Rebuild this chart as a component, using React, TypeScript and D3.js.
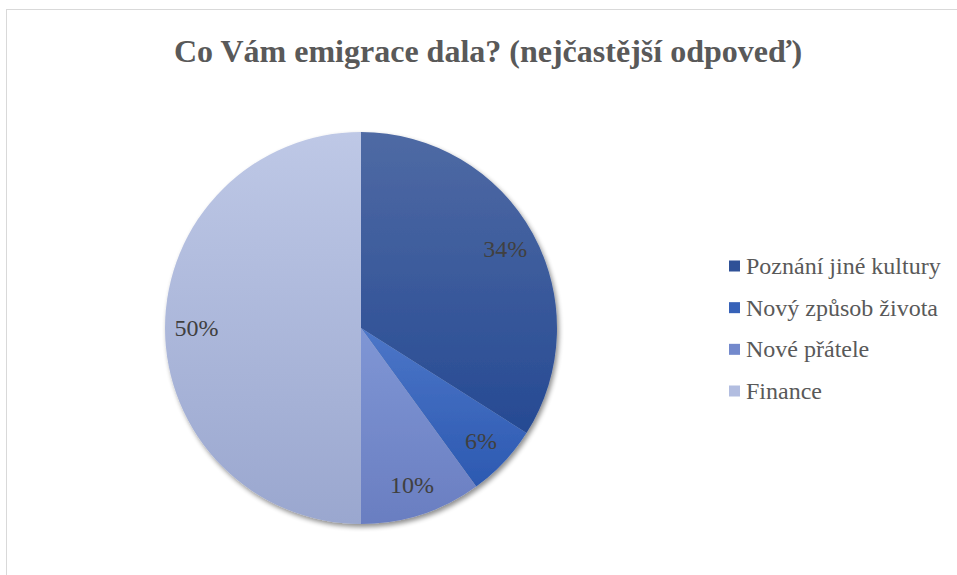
import React from "react";
import * as d3 from "d3";

const title = "Co Vám emigrace dala? (nejčastější odpoveď)";
const categories = ["Poznání jiné kultury", "Nový způsob života", "Nové přátele", "Finance"];
const values = [34, 6, 10, 50];
const labels = ["34%", "6%", "10%", "50%"];
const topColors = ["#4f6aa4", "#4c76c8", "#7f96d5", "#bec8e6"];
const bottomColors = ["#264a93", "#2c59b1", "#6a7ec1", "#9aa7cf"];
const swatchColors = ["#2f5197", "#3762b8", "#7389cc", "#b2bde0"];

export default function App() {
  const W = 957, H = 575;
  const cx = 361, cy = 328, R = 196;
  const pie = d3.pie<number>().sort(null).value((d) => d)(values);
  const arc = d3.arc<d3.PieArcDatum<number>>().innerRadius(0).outerRadius(R);
  const labelArc = d3.arc<d3.PieArcDatum<number>>().innerRadius(R * 0.84).outerRadius(R * 0.84);
  const legendY = d3.scalePoint<string>().domain(categories).range([266, 391]);

  return (
    <svg width={W} height={H} style={{ position: "absolute", left: 0, top: 0, background: "#fff" }}
      fontFamily="'Liberation Serif', 'Times New Roman', serif">
      <defs>
        {categories.map((c, i) => (
          <linearGradient key={c} id={`g${i}`} x1="0" y1="0" x2="0" y2="1">
            <stop offset="0" stopColor={topColors[i]} />
            <stop offset="1" stopColor={bottomColors[i]} />
          </linearGradient>
        ))}
        <filter id="sh" x="-20%" y="-20%" width="140%" height="140%">
          <feGaussianBlur in="SourceAlpha" stdDeviation="2.5" />
          <feOffset dx="2" dy="3" result="b" />
          <feComponentTransfer><feFuncA type="linear" slope="0.45" /></feComponentTransfer>
          <feMerge><feMergeNode /><feMergeNode in="SourceGraphic" /></feMerge>
        </filter>
      </defs>
      <rect x={6.5} y={9.5} width={W + 10} height={H + 10} fill="#fff" stroke="#d9d9d9" strokeWidth={1} />
      <text x={488} y={62} textAnchor="middle" fontSize={32} fontWeight="bold" fill="#595959">{title}</text>
      <g transform={`translate(${cx},${cy})`}>
        <g filter="url(#sh)">
          {pie.map((p, i) => (
            <path key={i} d={arc(p) || ""} fill={`url(#g${i})`} />
          ))}
        </g>
        {pie.map((p, i) => {
          const [x, y] = labelArc.centroid(p);
          return (
            <text key={i} x={x} y={y} textAnchor="middle" dominantBaseline="central" fontSize={24} fill="#404040">{labels[i]}</text>
          );
        })}
      </g>
      {categories.map((c, i) => {
        const y = legendY(c) as number;
        return (
          <g key={c}>
            <rect x={729} y={y - 5.5} width={11} height={11} fill={swatchColors[i]} />
            <text x={746} y={y} dominantBaseline="central" fontSize={24} fill="#595959">{c}</text>
          </g>
        );
      })}
    </svg>
  );
}
